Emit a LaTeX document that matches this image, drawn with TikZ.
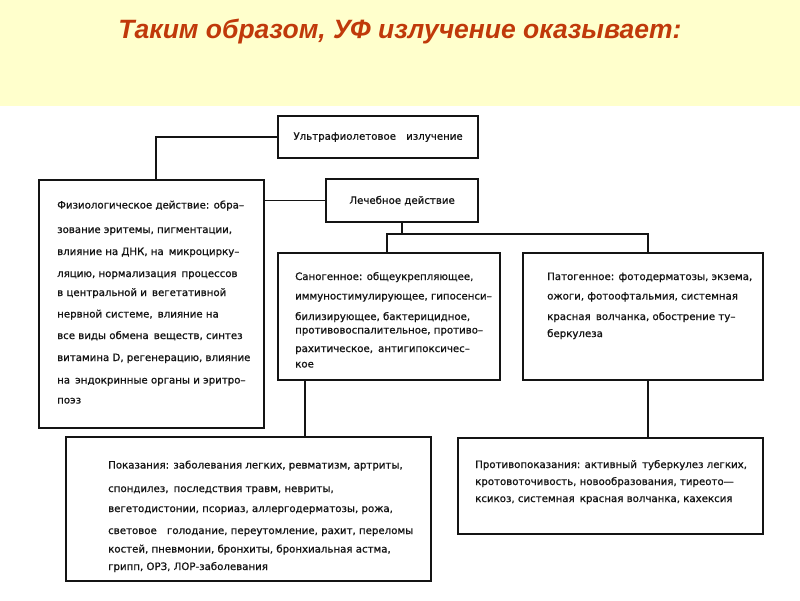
\documentclass[tikz,border=0pt]{standalone}
\usepackage{fontspec}
\setmainfont{DejaVu Sans}
\newfontfamily\scanfont{DejaVu Sans}[FakeBold=0.9]
\newfontfamily\titlefont{Liberation Sans}
\definecolor{titlered}{RGB}{192,57,10}
\definecolor{bandyellow}{RGB}{255,255,204}
\definecolor{ink}{RGB}{20,20,20}
\begin{document}
\begin{tikzpicture}[x=1pt,y=-1pt,
  box/.style={draw=ink, line width=2.2pt, rectangle, inner sep=0pt, anchor=north west},
  link/.style={draw=ink, line width=1.5pt},
  txt/.style={font=\scanfont\fontsize{10.2}{12}\selectfont, text=ink, inner sep=0pt, anchor=base west},
  titletext/.style={font=\titlefont\bfseries\itshape\fontsize{26.5}{30}\selectfont, text=titlered, inner sep=0pt, anchor=base}
]
\useasboundingbox (0,0) rectangle (800,600);
\fill[white] (0,0) rectangle (800,600);
\fill[bandyellow] (0,0) rectangle (800,106);

\node[titletext] (title) at (400,38) {Таким образом, УФ излучение оказывает:};

% boxes
\node[box, minimum width=200pt, minimum height=42pt] (uv) at (277,115) {};
\node[box, minimum width=225pt, minimum height=248pt] (phys) at (38,179) {};
\node[box, minimum width=152pt, minimum height=43pt] (lech) at (325,178) {};
\node[box, minimum width=222pt, minimum height=127pt] (sano) at (277,252) {};
\node[box, minimum width=240pt, minimum height=127pt] (pato) at (522,252) {};
\node[box, minimum width=365pt, minimum height=144pt] (pok) at (65,436) {};
\node[box, minimum width=305pt, minimum height=96pt] (contra) at (457,437) {};

% centred labels
\node[txt, anchor=center] (uvtext) at (uv.center) {Ультрафиолетовое\quad излучение};
\node[txt, anchor=center] (lechtext) at (lech.center) {Лечебное действие};

% connectors
\coordinate (physup) at (156,137);
\coordinate (busL) at (387,234);
\coordinate (busR) at (648,234);
\coordinate (pokx) at (305,0);
\draw[link] (uv.west) -| (phys.north -| physup);
\draw[link] (phys.east |- lech.west) -- (lech.west);
\draw[link] (lech.south) -- (lech.south |- busL);
\draw[link] (sano.north -| busL) -- (busL) -- (busR) -- (pato.north -| busR);
\draw[link] (sano.south -| pokx) -- (pok.north -| pokx);
\draw[link] (pato.south -| busR) -- (contra.north -| busR);

% texts
\foreach \y/\t [count=\i] in {
  208.5/{Физиологическое действие: обра–},
  233/{зование эритемы, пигментации,},
  255/{влияние на ДНК, на\enspace микроцирку–},
  277/{ляцию, нормализация\enspace процессов},
  296/{в центральной и\enspace вегетативной},
  317.5/{нервной системе,\enspace влияние на},
  339/{все виды обмена\enspace веществ, синтез},
  361/{витамина D, регенерацию, влияние},
  383.5/{на\enspace эндокринные органы и эритро–},
  403.5/{поэз}}
  \node[txt] (phys-\i) at (57,\y) {\t};

\foreach \y/\t [count=\i] in {
  280/{Саногенное: общеукрепляющее,},
  299.5/{иммуностимулирующее, гипосенси–},
  320/{билизирующее, бактерицидное,},
  333.5/{противовоспалительное, противо–},
  352/{рахитическое,\enspace антигипоксичес–},
  367.5/{кое}}
  \node[txt] (sano-\i) at (295,\y) {\t};

\foreach \y/\t [count=\i] in {
  280/{Патогенное: фотодерматозы, экзема,},
  299.5/{ожоги, фотоофтальмия, системная},
  320/{красная\enspace волчанка, обострение ту–},
  337/{беркулеза}}
  \node[txt] (pato-\i) at (547,\y) {\t};

\foreach \y/\t [count=\i] in {
  468.5/{Показания: заболевания легких, ревматизм, артриты,},
  492/{спондилез,\enspace последствия травм, невриты,},
  512/{вегетодистонии, псориаз, аллергодерматозы, рожа,},
  534/{световое\quad голодание, переутомление, рахит, переломы},
  552.5/{костей, пневмонии, бронхиты, бронхиальная астма,},
  570/{грипп, ОРЗ, ЛОР-заболевания}}
  \node[txt] (pok-\i) at (108,\y) {\t};

\foreach \y/\t [count=\i] in {
  468/{Противопоказания: активный\enspace туберкулез легких,},
  485/{кротовоточивость, новообразования, тиреото—},
  502/{ксикоз, системная\enspace красная волчанка, кахексия}}
  \node[txt] (contra-\i) at (475,\y) {\t};
\end{tikzpicture}
\end{document}
